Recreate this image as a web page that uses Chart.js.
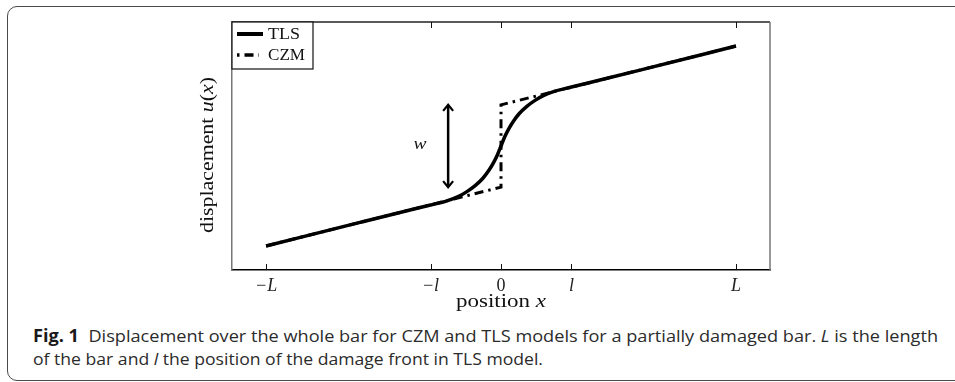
<!DOCTYPE html>
<html>
<head>
<meta charset="utf-8">
<script src="https://cdn.jsdelivr.net/npm/chart.js@4"></script>
<style>
  html, body { margin: 0; padding: 0; background: #fff; width: 955px; height: 382px; overflow: hidden; }
  #card { position: absolute; left: 7px; top: 6px; width: 1000px; height: 375px; box-sizing: border-box;
          border: 1.5px solid #4a4a4a; border-radius: 10px; }
  #plot { position: absolute; left: 0; top: 0; }
  #caption { position: absolute; left: 33px; top: 324px; font-family: "Open Sans", sans-serif; font-size: 17px;
             line-height: 23px; color: #2b2b2b; white-space: nowrap; }
  #caption .ln { display: block; width: max-content; transform-origin: 0 0; }
  #caption b { font-weight: 700; color: #1a1a1a; }
</style>
</head>
<body>
<div id="card"></div>
<canvas id="plot" width="955" height="320"></canvas>
<div id="caption">
  <div class="ln" data-w="905"><b>Fig. 1</b>&nbsp; Displacement over the whole bar for CZM and TLS models for a partially damaged bar. <i>L</i> is the length</div>
  <div class="ln" data-w="510">of the bar and <i>l</i> the position of the damage front in TLS model.</div>
</div>
<script>
// --- data (x in units of L, u normalised 0..1) ---
var seriesNames = ['TLS', 'CZM'];
var xTickValues = [-1, -0.3, 0, 0.3, 1];
var xTickLabels = ['\u2212L', '\u2212l', '0', 'l', 'L'];

var tlsX = [-1, -0.6, -0.43, -0.3, -0.23, -0.18, -0.145, -0.11, -0.077, -0.05, -0.03, -0.015, 0,
            0.015, 0.03, 0.05, 0.077, 0.11, 0.145, 0.18, 0.23, 0.3, 0.43, 0.6, 1];
var tlsU = [0.097, 0.192, 0.232, 0.262, 0.279, 0.297, 0.316, 0.340, 0.370, 0.404, 0.436, 0.465, 0.5,
            0.535, 0.564, 0.596, 0.630, 0.660, 0.684, 0.703, 0.721, 0.738, 0.768, 0.808, 0.903];

var czmX = [-1, 0, 0, 1];
var czmU = [0.097, 0.334, 0.666, 0.903];

// opening w shown by the double arrow
var arrowX = -0.225;
var arrowU = [0.334, 0.666];
var wLabelX = -0.345;

function toPoints(xs, ys) {
  return xs.map(function (x, i) { return { x: x, y: ys[i] }; });
}

var serif = '"Liberation Serif", "DejaVu Serif", serif';

function setFont(ctx, italic, size) {
  ctx.font = (italic ? 'italic ' : '') + size + 'px ' + serif;
}
function runsWidth(ctx, runs, size) {
  return runs.reduce(function (w, r) {
    setFont(ctx, r[1], size);
    return w + ctx.measureText(r[0]).width;
  }, 0);
}
// centred text made of [text, italic] pieces, stretched to a given width (CM is wider than Times)
function drawRunsFit(ctx, runs, cx, cy, size, targetW) {
  var w = runsWidth(ctx, runs, size);
  ctx.save();
  ctx.translate(cx, cy);
  ctx.scale(targetW / w, 1);
  var x = -w / 2;
  ctx.textAlign = 'left';
  runs.forEach(function (r) {
    setFont(ctx, r[1], size);
    ctx.fillText(r[0], x, 0);
    x += ctx.measureText(r[0]).width;
  });
  ctx.restore();
}

var decorPlugin = {
  id: 'decor',
  afterDatasetsDraw: function (chart) {
    var ctx = chart.ctx, a = chart.chartArea;
    var xs = chart.scales.x, ys = chart.scales.y;
    ctx.save();

    // top / right frame
    ctx.lineWidth = 1.5;
    ctx.strokeStyle = '#222';
    ctx.beginPath(); ctx.moveTo(a.left, a.top); ctx.lineTo(a.right, a.top); ctx.stroke();
    ctx.strokeStyle = '#777';
    ctx.beginPath(); ctx.moveTo(a.right, a.top); ctx.lineTo(a.right, a.bottom); ctx.stroke();

    // inward ticks on bottom and top
    ctx.strokeStyle = '#111';
    ctx.lineWidth = 1;
    xs.ticks.forEach(function (t) {
      var px = Math.round(xs.getPixelForValue(t.value)) + 0.5;
      ctx.beginPath();
      ctx.moveTo(px, a.bottom); ctx.lineTo(px, a.bottom - 6);
      ctx.moveTo(px, a.top); ctx.lineTo(px, a.top + 6);
      ctx.stroke();
    });

    // double arrow for w
    var ax = xs.getPixelForValue(arrowX);
    var y1 = ys.getPixelForValue(arrowU[0]), y2 = ys.getPixelForValue(arrowU[1]);
    ctx.strokeStyle = '#000';
    ctx.lineWidth = 2.5;
    ctx.lineCap = 'butt';
    ctx.beginPath(); ctx.moveTo(ax, y1 - 1); ctx.lineTo(ax, y2 + 1); ctx.stroke();
    ctx.lineWidth = 2.2;
    ctx.beginPath();
    ctx.moveTo(ax - 5, y2 + 6); ctx.lineTo(ax, y2); ctx.lineTo(ax + 5, y2 + 6);
    ctx.moveTo(ax - 5, y1 - 6); ctx.lineTo(ax, y1); ctx.lineTo(ax + 5, y1 - 6);
    ctx.stroke();

    ctx.fillStyle = '#111';
    ctx.textBaseline = 'middle';
    ctx.textAlign = 'center';
    drawRunsFit(ctx, [['w', true]], xs.getPixelForValue(wLabelX), ys.getPixelForValue(0.5) - 1, 17, 13);

    // legend box
    var lx = a.left, ly = a.top, lw = 81, lh = 47;
    ctx.fillStyle = '#fff';
    ctx.fillRect(lx, ly, lw, lh);
    ctx.strokeStyle = '#111';
    ctx.lineWidth = 1.2;
    ctx.strokeRect(lx, ly, lw, lh);
    chart.data.datasets.forEach(function (ds, i) {
      var yy = ly + 12 + i * 21;
      ctx.strokeStyle = '#000';
      ctx.lineWidth = i === 0 ? 4 : 3.5;
      ctx.setLineDash(ds.borderDash || []);
      ctx.lineDashOffset = ds.borderDash ? 14 : 0;
      ctx.beginPath(); ctx.moveTo(lx + 5, yy); ctx.lineTo(lx + (ds.borderDash ? 27 : 31), yy); ctx.stroke();
      ctx.setLineDash([]);
      ctx.fillStyle = '#111';
      var lbl = ds.label === 'TLS' ? 32 : 37;
      drawRunsFit(ctx, [[ds.label, false]], lx + 36 + lbl / 2, yy + 1, 17, lbl);
    });

    // axis titles
    drawRunsFit(ctx, [['position ', false], ['x', true]], (a.left + a.right) / 2, a.bottom + 32, 18, 90);

    ctx.translate(208, (a.top + a.bottom) / 2 + 9);
    ctx.rotate(-Math.PI / 2);
    drawRunsFit(ctx, [['displacement ', false], ['u', true], ['(', false], ['x', true], [')', false]], 0, 0, 18, 156);

    ctx.restore();
  }
};

new Chart(document.getElementById('plot').getContext('2d'), {
  type: 'line',
  data: {
    datasets: [{
      label: seriesNames[0],
      data: toPoints(tlsX, tlsU),
      borderColor: '#000',
      borderWidth: 3.5,
      pointRadius: 0,
      cubicInterpolationMode: 'monotone',
      fill: false
    }, {
      label: seriesNames[1],
      data: toPoints(czmX, czmU),
      borderColor: '#000',
      borderWidth: 3,
      borderDash: [9, 5, 2.5, 5],
      pointRadius: 0,
      tension: 0,
      fill: false
    }]
  },
  options: {
    responsive: false,
    animation: false,
    layout: { padding: { left: 232, right: 185, top: 22, bottom: 0 } },
    plugins: { legend: { display: false }, tooltip: { enabled: false } },
    scales: {
      x: {
        type: 'linear',
        min: -1.145,
        max: 1.145,
        afterBuildTicks: function (s) {
          s.ticks = xTickValues.map(function (v) { return { value: v }; });
        },
        afterFit: function (s) { s.height = 50; },
        grid: { display: false, drawTicks: false },
        border: { display: true, color: '#000', width: 1.5 },
        ticks: {
          autoSkip: false,
          maxRotation: 0,
          padding: 5,
          color: '#222',
          font: function (c) {
            var italic = c.tick && c.tick.value !== 0;
            return { family: serif, size: 18, style: italic ? 'italic' : 'normal' };
          },
          callback: function (v) {
            var i = xTickValues.indexOf(v);
            return i < 0 ? '' : xTickLabels[i];
          }
        }
      },
      y: {
        min: 0,
        max: 1,
        ticks: { display: false },
        grid: { display: false, drawTicks: false },
        border: { display: true, color: '#777', width: 1.5 },
        afterFit: function (s) { s.width = 0; }
      }
    }
  },
  plugins: [decorPlugin]
});

// squeeze caption lines to the reference widths
document.querySelectorAll('#caption .ln').forEach(function (el) {
  var target = parseFloat(el.getAttribute('data-w'));
  var w = el.getBoundingClientRect().width;
  el.style.transform = 'scaleX(' + (target / w).toFixed(4) + ')';
});
</script>
</body>
</html>
